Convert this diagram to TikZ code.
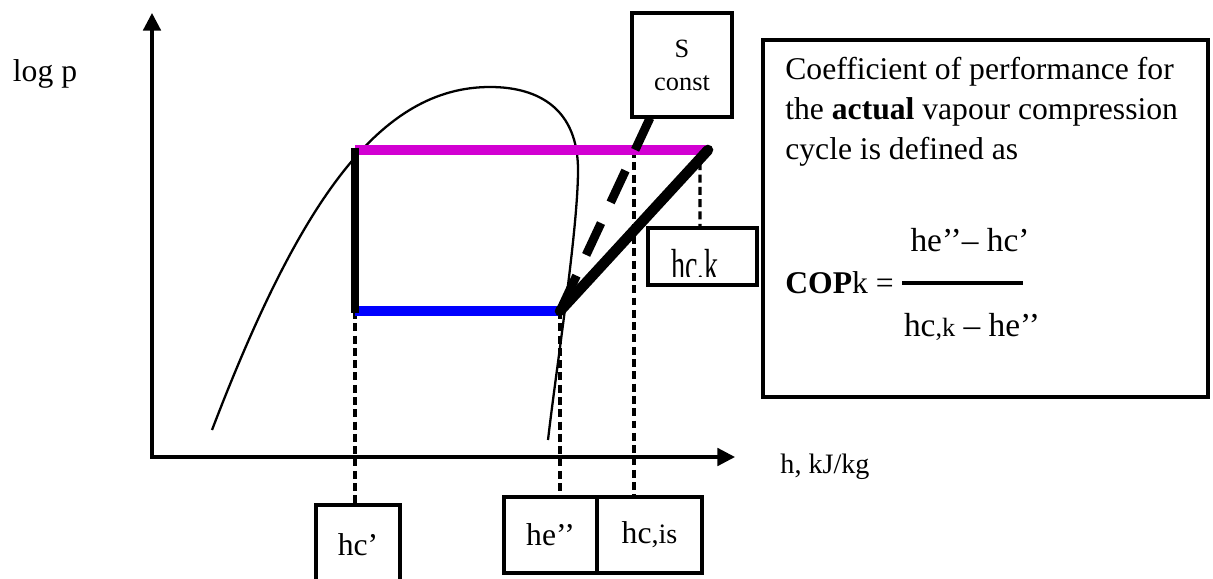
\documentclass[tikz,border=0pt]{standalone}
\usepackage{fontspec}
\setmainfont{Liberation Serif}
\usetikzlibrary{arrows.meta}
\definecolor{cond}{RGB}{210,0,210}
\definecolor{evap}{RGB}{0,0,255}

\begin{document}
\begin{tikzpicture}[x=0.02cm, y=-0.02cm, >={Triangle[length=10pt,width=10pt]},
    box/.style={draw, line width=1.9pt, inner sep=0pt, font=\fontsize{18}{21}\selectfont},
    guide/.style={line width=1.8pt, dash pattern=on 4.5pt off 2.5pt},
    txt/.style={inner sep=0pt, font=\fontsize{18}{22.8}\selectfont}]
    \useasboundingbox (0,0) rectangle (1213,578);

    % axes
    \draw [line width=1.8pt, <->] (152,13) coordinate (Y) |- (735,457) coordinate (X);
    \node (logp) [txt] at (45,74) {log p};
    \node (hunit) [txt, font=\fontsize{16}{19}\selectfont] at (825,467) {h, kJ/kg};

    % saturation curve
    \draw [line width=1.3pt] (212,430)
        .. controls (300,200) and (380,87) .. (490,87)
        .. controls (540,87) and (578,110) .. (578,170)
        .. controls (578,230) and (556,370) .. (548,440);

    % cycle points
    \coordinate (A) at (355,150);
    \coordinate (B) at (355,311);
    \coordinate (E) at (560,311);
    \coordinate (K) at (708,150);
    \coordinate (I) at (634,150);
    \coordinate (S) at (650,118);

    % labels
    \node (hc) [box, minimum width=1.68cm, minimum height=1.6cm] at (358,545) {hc’};
    \node (he) [box, minimum width=1.86cm, minimum height=1.52cm] at (550.5,535) {he’’};
    \node (his) [box, minimum width=2.1cm, minimum height=1.52cm] at (649.5,535) {hc{\fontsize{16}{19}\selectfont,is}};
    \node (hk) [box, minimum width=2.18cm, minimum height=1.14cm] at (702.5,256.5) {};
    \begin{scope}
        \clip (hk.north west) rectangle (hk.east |- 0,276);
        \node (hktext) [txt, font=\fontsize{16}{19}\selectfont, anchor=base] at (695,280) {\scalebox{1}[1.6]{hc,k}};
    \end{scope}
    \node (sc) [box, minimum width=2cm, minimum height=2.08cm, align=center,
        font=\fontsize{15}{19}\selectfont, text depth=-0.2cm] at (682,65) {S\\const};

    \draw [guide] (B) -- (B |- hc.north);
    \draw [guide] (E) -- (E |- he.north);
    \draw [guide] (I) -- (I |- his.north);
    \draw [guide] (K) ++(-8,0) -- ([xshift=-0.16cm]K |- hk.north);

    \draw [evap, line width=5.8pt] (B) -- (E);
    \draw [cond, line width=5.6pt] (A) -- (K);
    \draw [line width=5pt] ([yshift=0.05cm]A) -- ([yshift=-0.03cm]B);
    \draw [line width=6pt, line cap=round] (E) -- (K);
    \draw [line width=5pt, dash pattern=on 20pt off 13pt] (S) -- (E);

    % definition box
    \node (cop) [box, line width=2.2pt, minimum width=8.9cm, minimum height=7.14cm] at (985.5,218.5) {};
    \node (defn) [txt, anchor=north west, align=left] at (785,57)
        {Coefficient of performance for\\the \textbf{actual} vapour compression\\cycle is defined as};
    \node (lhs) [txt, anchor=west] at (785,283) {\textbf{COP}k =};
    \node (num) [txt, font=\fontsize{19}{22}\selectfont] at (970,240) {he’’– hc’};
    \node (den) [txt, font=\fontsize{19}{22}\selectfont] at (972,327)
        {hc{\fontsize{15}{18}\selectfont,k} – he’’};
    \draw [line width=2.2pt] (902,283) coordinate (f1) -- (1023,283) coordinate (f2);
\end{tikzpicture}
\end{document}
